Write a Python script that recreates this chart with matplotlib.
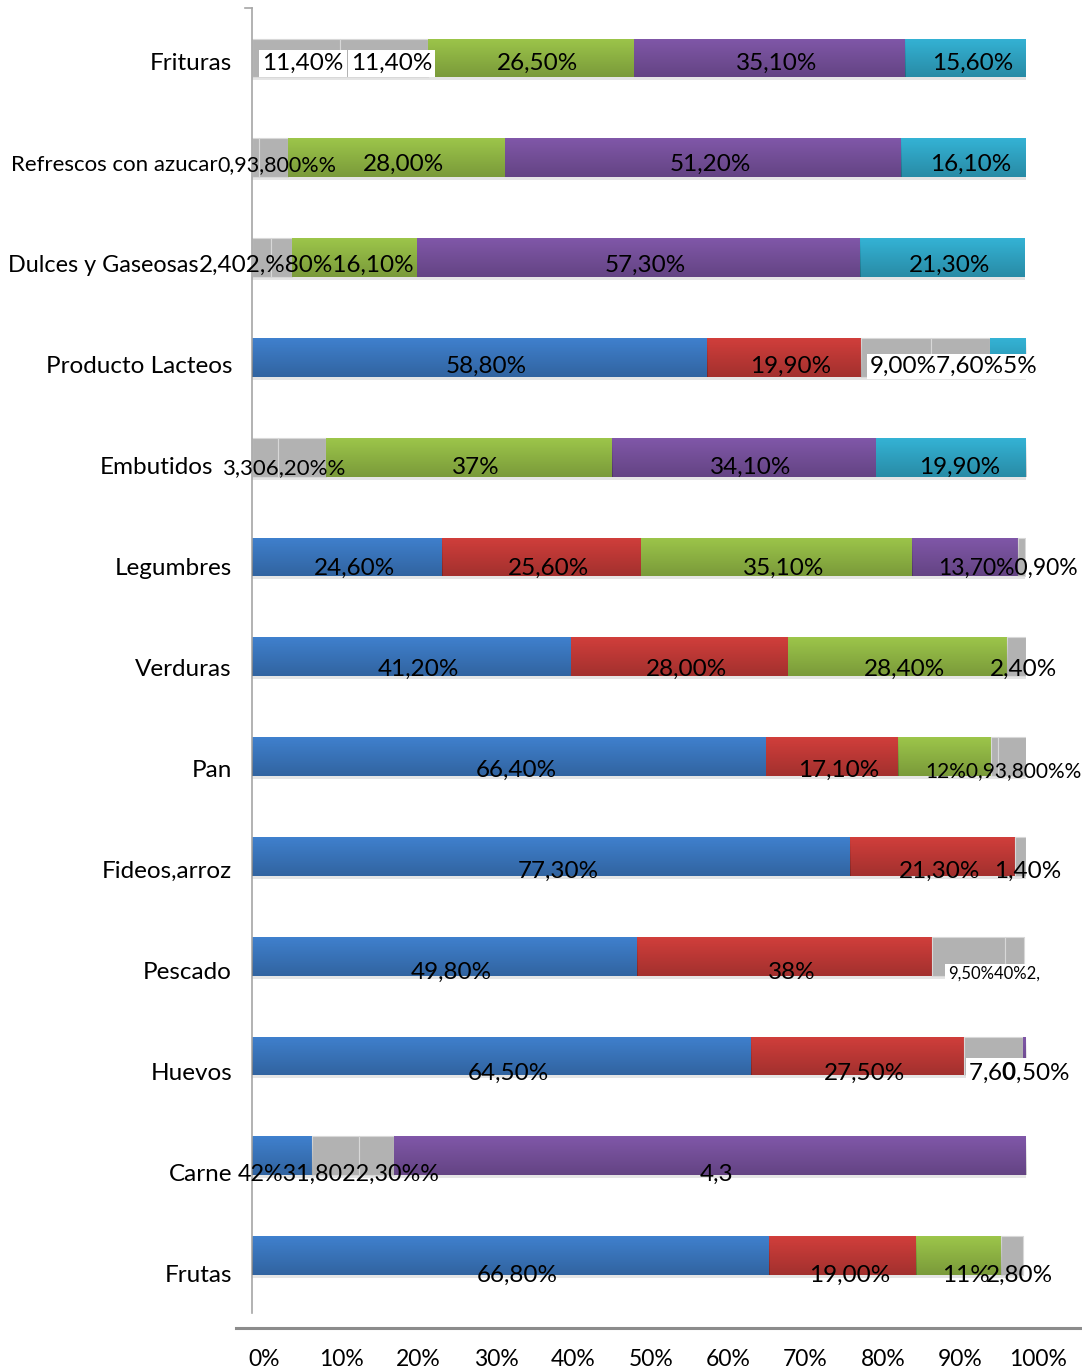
import numpy as np
import matplotlib.pyplot as plt
from matplotlib.colors import LinearSegmentedColormap
from matplotlib.lines import Line2D

plt.rcParams['font.family'] = ['Lato', 'DejaVu Sans']
plt.rcParams['mathtext.fontset'] = 'custom'
plt.rcParams['mathtext.rm'] = 'Lato'
plt.rcParams['mathtext.bf'] = 'Lato:bold'

categorias = ['Frituras', 'Refrescos con azucar', 'Dulces y Gaseosas', 'Producto Lacteos',
              'Embutidos', 'Legumbres', 'Verduras', 'Pan', 'Fideos,arroz', 'Pescado',
              'Huevos', 'Carne', 'Frutas']

# porcentaje de cada grupo (barras apiladas al 100%)
s1 = [11.4, 0.9, 2.4, 58.8, 3.3, 24.6, 41.2, 66.4, 77.3, 49.8, 64.5, 7.8, 66.8]
s2 = [11.4, 3.8, 2.8, 19.9, 6.2, 25.6, 28.0, 17.1, 21.3, 38.0, 27.5, 6.0, 19.0]
s3 = [26.5, 28.0, 16.1, 9.0, 37.0, 35.1, 28.4, 12.0, 1.4, 9.5, 7.6, 4.5, 11.0]
s4 = [35.1, 51.2, 57.3, 7.6, 34.1, 13.7, 2.4, 0.9, 0.0, 2.4, 0.5, 81.7, 2.8]
s5 = [15.6, 16.1, 21.3, 5.0, 19.9, 0.9, 0.0, 3.8, 0.0, 0.0, 0.0, 0.0, 0.0]

# segmentos que quedaron sin relleno (solo sombra gris)
sin_relleno = [{0, 1}, {0, 1}, {0, 1}, {2, 3}, {0, 1}, {4}, {3}, {3, 4}, {2}, {2, 3}, {2}, {1, 2}, {3}]

etiquetas = [
    ['11,40%', '11,40%', '26,50%', '35,10%', '15,60%'],
    [None, None, '28,00%', '51,20%', '16,10%'],
    [None, None, None, '57,30%', '21,30%'],
    ['58,80%', '19,90%', None, None, None],
    [None, None, '37%', '34,10%', '19,90%'],
    ['24,60%', '25,60%', '35,10%', None, None],
    ['41,20%', '28,00%', '28,40%', '2,40%', None],
    ['66,40%', '17,10%', None, None, None],
    ['77,30%', '21,30%', '1,40%', None, None],
    ['49,80%', '38%', None, None, None],
    ['64,50%', '27,50%', None, None, None],
    [None, None, None, '4,3', None],
    ['66,80%', '19,00%', '11%', '2,80%', None],
]

# textos de etiquetas que se encimaron: fila, x inicial, texto, estilo, tamaño
fragmentos = [
    (1, -4.5, '0,93,800%%', 'normal', 15.5),
    (2, -6.85, '2,402,%80%16,10%', 'normal', 17.5),
    (3, 79.8, '9,00%7,60%5%', 'blanco', 17.5),
    (4, -3.9, '3,306,20%%', 'normal', 16),
    (5, 88.6, '13,70%0,90%', 'normal', 16.5),
    (7, 87.0, '12%0,93,800%%', 'normal', 15),
    (9, 89.9, '9,50%40%2,', 'chico', 12),
    (10, 92.5, r'7,6$\mathbf{0}$,50%', 'blanco', 17.5),
    (11, -1.9, '42%31,8022,30%%', 'normal', 16.8),
]
fin_categoria = {1: -4.5, 2: -6.85, 4: -5.0}
tam_categoria = {1: 16, 2: 16.8}

series = [s1, s2, s3, s4, s5]
colores = ['#3f80cd', '#d03e3b', '#9cc54a', '#8057a8', '#34b2d4']
gris = '#b2b2b2'

fig = plt.figure(figsize=(10.82, 13.69), dpi=100)
ax = fig.add_axes([252 / 1082, 1 - 1313 / 1369, 774 / 1082, 1305 / 1369])

y = np.arange(len(categorias))
h = 0.39
px = 1 / 99.8  # un pixel en unidades del eje y

sombra = LinearSegmentedColormap.from_list('sombra', [(0, 0, 0, 0), (0, 0, 0, 0.22)])
grad = np.linspace(0, 1, 64).reshape(-1, 1)

totales = np.sum(series, axis=0)
ax.barh(y + 3 * px, totales, height=h, color='black', alpha=0.10, zorder=1)

left = np.zeros(len(y))
for k, (vals, col) in enumerate(zip(series, colores)):
    vals = np.array(vals)
    cols = [gris if k in sin_relleno[i] else col for i in range(len(y))]
    edges = ['#d8d8d8' if k in sin_relleno[i] else 'none' for i in range(len(y))]
    ax.barh(y, vals, left=left, height=h, color=cols, edgecolor=edges, linewidth=0.8, zorder=2)
    for i in range(len(y)):
        if vals[i] > 0 and k not in sin_relleno[i]:
            ax.imshow(grad, cmap=sombra, extent=(left[i], left[i] + vals[i], y[i] + h / 2, y[i] - h / 2),
                      aspect='auto', zorder=3, interpolation='bilinear')
    left += vals


def base(i):
    return y[i] + (12 + 1.2 * i) * px


# etiquetas de valores centradas en cada segmento
left = np.zeros(len(y))
for k, vals in enumerate(series):
    for i in range(len(y)):
        txt = etiquetas[i][k]
        if txt:
            caja = dict(boxstyle='square,pad=0.12', fc='white', ec='none') if i == 0 and k < 2 else None
            ax.annotate(txt, xy=(left[i] + vals[i] / 2, base(i)), xytext=(5, 0), textcoords='offset points',
                        ha='center', va='baseline', fontsize=17.5, bbox=caja, zorder=5)
    left += np.array(vals)

for i, txt, in enumerate(categorias):
    ax.text(fin_categoria.get(i, -2.58), base(i), txt, ha='right', va='baseline',
            fontsize=tam_categoria.get(i, 17.5))

for i, x, txt, estilo, tam in fragmentos:
    caja = None
    if estilo == 'blanco':
        caja = dict(boxstyle='square,pad=0.1', fc='white', ec='none')
    elif estilo == 'chico':
        caja = dict(boxstyle='square,pad=0.15', fc='white', ec='none')
    ax.text(x, base(i), txt, ha='left', va='baseline', fontsize=tam, zorder=5, bbox=caja)

# eje de porcentajes
for v in range(0, 101, 10):
    ax.annotate(f'{v}%', xy=(v, 0), xycoords=('data', 'axes fraction'), xytext=(8.5, -38),
                textcoords='offset points', ha='center', va='baseline', fontsize=16.5)

ax.set_xlim(0, 100)
ax.set_ylim(12.575, -0.501)
ax.set_xticks([])
ax.set_yticks([])
for s in ['top', 'right', 'bottom']:
    ax.spines[s].set_visible(False)
ax.spines['left'].set_color('#a6a6a6')
ax.spines['left'].set_linewidth(1.2)

fig.add_artist(Line2D([236 / 1082, 1], [1 - 1328 / 1369] * 2, color='#8c8c8c', lw=2.2))
fig.add_artist(Line2D([245 / 1082, 252 / 1082], [1 - 8 / 1369] * 2, color='#a6a6a6', lw=1.2))

fig.savefig('out.png', dpi=100)
